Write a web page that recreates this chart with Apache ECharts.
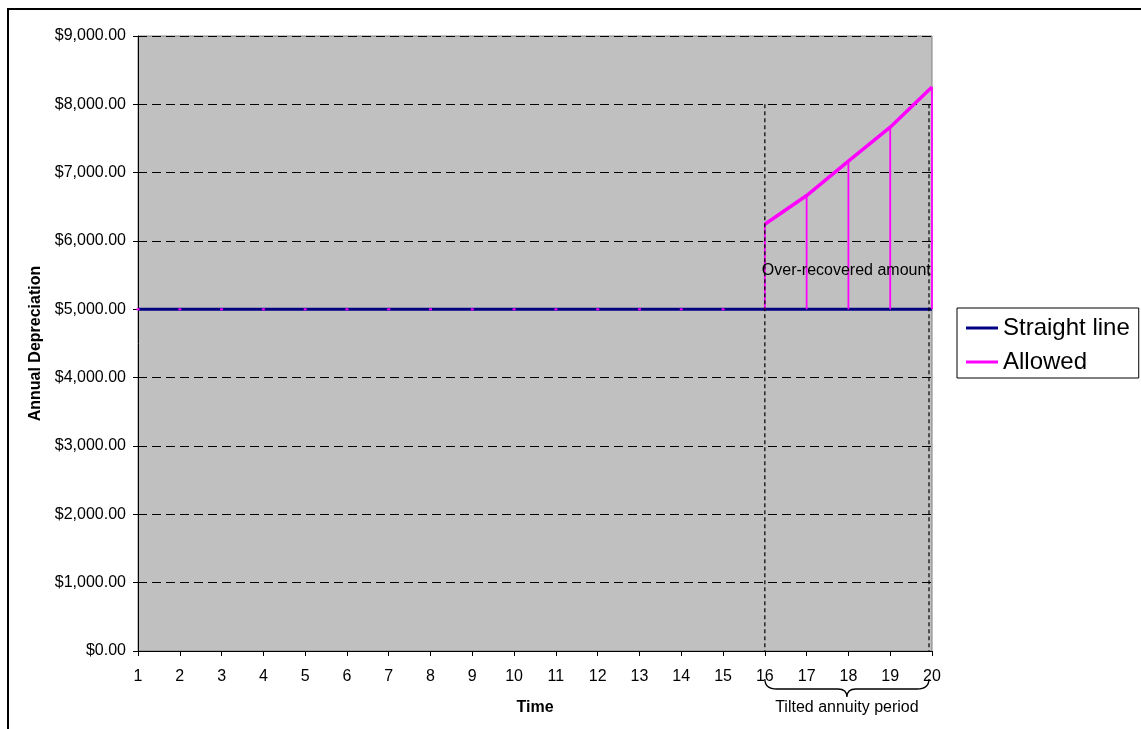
<!DOCTYPE html>
<html>
<head>
<meta charset="utf-8">
<title>Annual Depreciation</title>
<script src="https://cdn.jsdelivr.net/npm/echarts@6/dist/echarts.min.js"></script>
<style>
  html, body { margin: 0; padding: 0; background: #ffffff; }
  #chart { width: 1141px; height: 729px; }
</style>
</head>
<body>
<div id="chart"></div>
<script>
// Time periods (years)
const years = [1, 2, 3, 4, 5, 6, 7, 8, 9, 10, 11, 12, 13, 14, 15, 16, 17, 18, 19, 20];
// Straight-line depreciation per year
const straightLine = [5000, 5000, 5000, 5000, 5000, 5000, 5000, 5000, 5000, 5000,
                      5000, 5000, 5000, 5000, 5000, 5000, 5000, 5000, 5000, 5000];
// Allowed depreciation (tilted annuity, only over the final period)
const allowed = [null, null, null, null, null, null, null, null, null, null,
                 null, null, null, null, null, 6245, 6665, 7170, 7665, 8255];
// Value axis range
const yMin = 0, yMax = 9000, yStep = 1000;
// Tilted annuity period and its guide
const periodStart = 16, periodEnd = 20, guideTop = 8000;
const overRecoveredAnchor = 5560;

const FONT = '"Liberation Sans", Arial, sans-serif';

function money(v) {
  const s = Math.round(v).toString().replace(/\B(?=(\d{3})+(?!\d))/g, ',');
  return '$' + s + '.00';
}

// High-low segments between the two series at each year
const highLow = years.map((y, i) => {
  const vals = [straightLine[i], allowed[i]].filter(v => v !== null);
  return [y, Math.min.apply(null, vals), Math.max.apply(null, vals)];
});

const chart = echarts.init(document.getElementById('chart'), null, { renderer: 'canvas' });

chart.setOption({
  animation: false,
  backgroundColor: '#ffffff',
  textStyle: { fontFamily: FONT },
  graphic: [{
    type: 'rect',
    shape: { x: 8, y: 9, width: 1300, height: 900 },
    style: { fill: null, stroke: '#000000', lineWidth: 2 },
    silent: true,
    z: -10
  }],
  grid: {
    left: 138, top: 36, right: 209, bottom: 78,
    show: true,
    backgroundColor: '#C0C0C0',
    borderColor: '#808080',
    borderWidth: 1
  },
  legend: {
    orient: 'vertical',
    left: 957, top: 308,
    padding: [8, 9, 4, 9],
    borderColor: '#000000',
    borderWidth: 1,
    backgroundColor: '#ffffff',
    itemWidth: 32,
    itemHeight: 3,
    itemGap: 10,
    icon: 'rect',
    textStyle: { fontFamily: FONT, fontSize: 24, color: '#000000' },
    data: ['Straight line', 'Allowed']
  },
  xAxis: {
    type: 'value',
    min: 1, max: 20, interval: 1,
    name: 'Time',
    nameLocation: 'middle',
    nameGap: 49,
    nameTextStyle: { fontFamily: FONT, fontSize: 16, fontWeight: 'bold', color: '#000000' },
    axisLine: { show: true, onZero: false, lineStyle: { color: '#000000', width: 1 } },
    axisTick: { show: true, length: 5, lineStyle: { color: '#000000' } },
    axisLabel: { fontFamily: FONT, fontSize: 16, color: '#000000', margin: 18 },
    splitLine: { show: false }
  },
  yAxis: {
    type: 'value',
    min: yMin, max: yMax, interval: yStep,
    name: 'Annual Depreciation',
    nameLocation: 'middle',
    nameGap: 90,
    nameTextStyle: { fontFamily: FONT, fontSize: 16, fontWeight: 'bold', color: '#000000' },
    axisLine: { show: true, lineStyle: { color: '#000000', width: 1 } },
    axisTick: { show: true, length: 5, lineStyle: { color: '#000000' } },
    axisLabel: { fontFamily: FONT, fontSize: 16, color: '#000000', margin: 12, formatter: money },
    splitLine: { show: true, lineStyle: { color: '#000000', width: 1, type: [9, 5] } }
  },
  series: [
    {
      name: 'Straight line',
      type: 'line',
      data: years.map((y, i) => [y, straightLine[i]]),
      showSymbol: false,
      color: '#000080',
      lineStyle: { color: '#000080', width: 3 },
      z: 2
    },
    {
      name: 'High-low',
      type: 'custom',
      data: highLow,
      encode: { x: 0, y: [1, 2] },
      z: 3,
      renderItem: function (params, api) {
        const x = api.value(0);
        const lo = api.coord([x, api.value(1)]);
        const hi = api.coord([x, api.value(2)]);
        if (Math.abs(lo[1] - hi[1]) < 1) {
          return {
            type: 'rect',
            shape: { x: lo[0] - 1.5, y: lo[1] - 1, width: 3, height: 2 },
            style: { fill: '#FF00FF' }
          };
        }
        return {
          type: 'line',
          shape: { x1: lo[0], y1: lo[1], x2: hi[0], y2: hi[1] },
          style: { stroke: '#FF00FF', lineWidth: 1.8 }
        };
      }
    },
    {
      name: 'Allowed',
      type: 'line',
      data: years.map((y, i) => [y, allowed[i]]),
      showSymbol: false,
      connectNulls: false,
      color: '#FF00FF',
      lineStyle: { color: '#FF00FF', width: 3.5 },
      z: 4
    },
    {
      name: 'Annotations',
      type: 'custom',
      data: [[periodStart, periodEnd]],
      encode: { x: [0, 1] },
      clip: false,
      silent: true,
      z: 6,
      renderItem: function (params, api) {
        const a = api.coord([periodStart, guideTop]);
        const b = api.coord([periodEnd, guideTop]);
        const base = api.coord([periodStart, yMin])[1];
        const xl = a[0];
        const xr = b[0] - 3;
        const mid = (xl + xr) / 2;
        const y0 = base + 28;
        const yf = y0 + 10;
        const yt = y0 + 18;
        const brace =
          'M' + xl + ' ' + y0 +
          ' C' + xl + ' ' + (y0 + 7) + ' ' + (xl + 4) + ' ' + yf + ' ' + (xl + 12) + ' ' + yf +
          ' L' + (mid - 9) + ' ' + yf +
          ' C' + (mid - 3) + ' ' + yf + ' ' + mid + ' ' + (yf + 2) + ' ' + mid + ' ' + yt +
          ' C' + mid + ' ' + (yf + 2) + ' ' + (mid + 3) + ' ' + yf + ' ' + (mid + 9) + ' ' + yf +
          ' L' + (xr - 12) + ' ' + yf +
          ' C' + (xr - 4) + ' ' + yf + ' ' + xr + ' ' + (y0 + 7) + ' ' + xr + ' ' + y0;
        const txt = api.coord([periodStart, overRecoveredAnchor]);
        return {
          type: 'group',
          children: [
            {
              type: 'line',
              shape: { x1: xl, y1: a[1], x2: xl, y2: base },
              style: { stroke: '#000000', lineWidth: 1.2, lineDash: [4, 3] }
            },
            {
              type: 'line',
              shape: { x1: xr, y1: b[1], x2: xr, y2: base },
              style: { stroke: '#000000', lineWidth: 1.2, lineDash: [4, 3] }
            },
            {
              type: 'path',
              shape: { pathData: brace },
              style: { fill: null, stroke: '#000000', lineWidth: 1.3 }
            },
            {
              type: 'text',
              x: txt[0] - 3, y: txt[1],
              style: {
                text: 'Over-recovered amount',
                fontFamily: FONT, fontSize: 16, fill: '#000000',
                align: 'left', verticalAlign: 'middle'
              }
            },
            {
              type: 'text',
              x: mid, y: base + 57,
              style: {
                text: 'Tilted annuity period',
                fontFamily: FONT, fontSize: 16, fill: '#000000',
                align: 'center', verticalAlign: 'middle'
              }
            }
          ]
        };
      }
    }
  ]
});
</script>
</body>
</html>
